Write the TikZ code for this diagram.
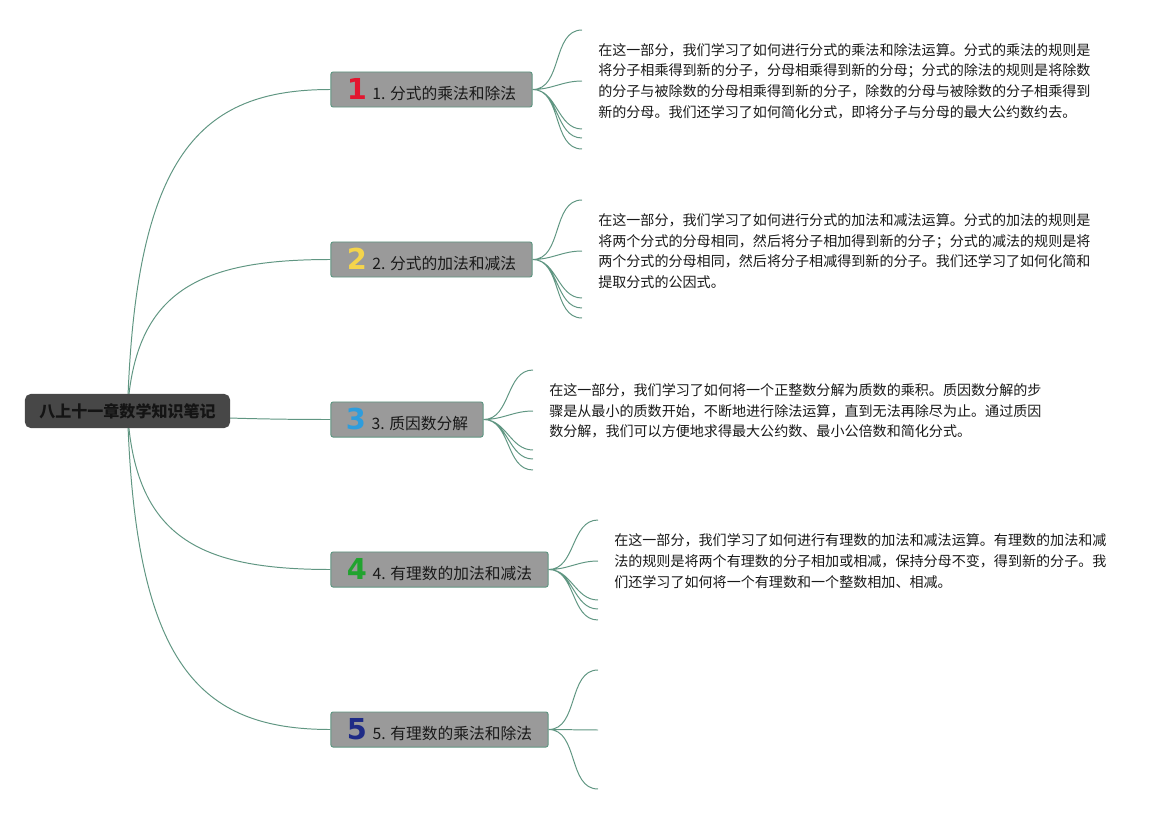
\documentclass[tikz,border=0pt]{standalone}
\usepackage{fontspec}
\setmainfont{Noto Sans CJK SC}
\newfontfamily\digitfont{DejaVu Sans}
\usepackage{xcolor}
\usepackage{tikz}
\usetikzlibrary{positioning, backgrounds}
\definecolor{branchgreen}{RGB}{96,150,130}
\definecolor{topicgray}{HTML}{9A9A9A}
\definecolor{rootgray}{HTML}{474747}
\definecolor{numred}{HTML}{E2162F}
\definecolor{numyellow}{HTML}{F4D44C}
\definecolor{numblue}{HTML}{2E9DDD}
\definecolor{numgreen}{HTML}{21A32F}
\definecolor{numnavy}{HTML}{1E2B86}
\newcommand{\topicnum}[2]{{\digitfont\bfseries\fontsize{20.5}{20.5}\selectfont\color{#1}#2}\hspace{4pt}}

\begin{document}
\begin{tikzpicture}[x=0.025cm, y=-0.025cm,
    root/.style={fill=rootgray, rounded corners=4pt, minimum width=5.125cm,
        minimum height=0.85cm, text=black!92, font=\bfseries\fontsize{11.4}{13}\selectfont},
    topic/.style={draw=branchgreen, fill=topicgray, line width=0.7pt, rounded corners=1.5pt,
        minimum height=0.875cm, inner sep=0pt, text=black!90, font=\fontsize{11.2}{13}\selectfont},
    note/.style={anchor=west, align=left, inner xsep=0.4cm, inner ysep=0pt,
        text=black!90, font=\fontsize{10}{14.7}\selectfont},
    branch/.style={draw=branchgreen, line width=0.7pt}]
    \useasboundingbox (0,0) rectangle (1173,815);

    % Central topic
    \node[root] (root) at (127.5,411) {八上十一章数学知识笔记};

    % Topic 1
    \node[topic, minimum width=5.025cm] (b1) at (431.5,89.5)
        {\topicnum{numred}{1}1. 分式的乘法和除法};
    \node[note] (t1) at (582,81) {在这一部分，我们学习了如何进行分式的乘法和除法运算。分式的乘法的规则是\\
        将分子相乘得到新的分子，分母相乘得到新的分母；分式的除法的规则是将除数\\
        的分子与被除数的分母相乘得到新的分子，除数的分母与被除数的分子相乘得到\\
        新的分母。我们还学习了如何简化分式，即将分子与分母的最大公约数约去。};
    \coordinate (e1a) at (582,30);
    \coordinate (e1b) at (582,129);
    \coordinate (e1c) at (582,138);
    \coordinate (e1d) at (582,149);

    % Topic 2
    \node[topic, minimum width=5.025cm] (b2) at (431.5,259.5)
        {\topicnum{numyellow}{2}2. 分式的加法和减法};
    \node[note] (t2) at (582,251) {在这一部分，我们学习了如何进行分式的加法和减法运算。分式的加法的规则是\\
        将两个分式的分母相同，然后将分子相加得到新的分子；分式的减法的规则是将\\
        两个分式的分母相同，然后将分子相减得到新的分子。我们还学习了如何化简和\\
        提取分式的公因式。};
    \coordinate (e2a) at (582,200);
    \coordinate (e2b) at (582,298);
    \coordinate (e2c) at (582,308);
    \coordinate (e2d) at (582,318);

    % Topic 3
    \node[topic, minimum width=3.8cm] (b3) at (407,419.5)
        {\topicnum{numblue}{3}3. 质因数分解};
    \node[note] (t3) at (533,411) {在这一部分，我们学习了如何将一个正整数分解为质数的乘积。质因数分解的步\\
        骤是从最小的质数开始，不断地进行除法运算，直到无法再除尽为止。通过质因\\
        数分解，我们可以方便地求得最大公约数、最小公倍数和简化分式。};
    \coordinate (e3a) at (533,370);
    \coordinate (e3b) at (533,450);
    \coordinate (e3c) at (533,459);
    \coordinate (e3d) at (533,470);

    % Topic 4
    \node[topic, minimum width=5.425cm] (b4) at (439.5,569.5)
        {\topicnum{numgreen}{4}4. 有理数的加法和减法};
    \node[note] (t4) at (598,561) {在这一部分，我们学习了如何进行有理数的加法和减法运算。有理数的加法和减\\
        法的规则是将两个有理数的分子相加或相减，保持分母不变，得到新的分子。我\\
        们还学习了如何将一个有理数和一个整数相加、相减。};
    \coordinate (e4a) at (598,520);
    \coordinate (e4b) at (598,600);
    \coordinate (e4c) at (598,609);
    \coordinate (e4d) at (598,620);

    % Topic 5
    \node[topic, minimum width=5.425cm] (b5) at (439.5,729.5)
        {\topicnum{numnavy}{5}5. 有理数的乘法和除法};
    \coordinate (e5a) at (598,670);
    \coordinate (e5b) at (598,730);
    \coordinate (e5c) at (598,789);

    \begin{scope}[on background layer]
        % Main branches
        \draw[branch] (root.center) .. controls (135,154) and (200,89.5) .. (b1.west);
        \draw[branch] (root.center) .. controls (135,290) and (200,259.5) .. (b2.west);
        \draw[branch] (root.center) .. controls (135,413) and (200,419.5) .. (b3.west);
        \draw[branch] (root.center) .. controls (135,538) and (200,569.5) .. (b4.west);
        \draw[branch] (root.center) .. controls (135,666) and (200,729.5) .. (b5.west);

        % Sub branches
        \draw[branch] (b1.east) to[out=0, in=180] (e1a) (b1.east) to[out=0, in=180] (t1.west)
            (b1.east) to[out=0, in=180] (e1b) (b1.east) to[out=0, in=180] (e1c)
            (b1.east) to[out=0, in=180] (e1d);
        \draw[branch] (b2.east) to[out=0, in=180] (e2a) (b2.east) to[out=0, in=180] (t2.west)
            (b2.east) to[out=0, in=180] (e2b) (b2.east) to[out=0, in=180] (e2c)
            (b2.east) to[out=0, in=180] (e2d);
        \draw[branch] (b3.east) to[out=0, in=180] (e3a) (b3.east) to[out=0, in=180] (t3.west)
            (b3.east) to[out=0, in=180] (e3b) (b3.east) to[out=0, in=180] (e3c)
            (b3.east) to[out=0, in=180] (e3d);
        \draw[branch] (b4.east) to[out=0, in=180] (e4a) (b4.east) to[out=0, in=180] (t4.west)
            (b4.east) to[out=0, in=180] (e4b) (b4.east) to[out=0, in=180] (e4c)
            (b4.east) to[out=0, in=180] (e4d);
        \draw[branch] (b5.east) to[out=0, in=180] (e5a) (b5.east) -- (e5b)
            (b5.east) to[out=0, in=180] (e5c);
    \end{scope}
\end{tikzpicture}
\end{document}
